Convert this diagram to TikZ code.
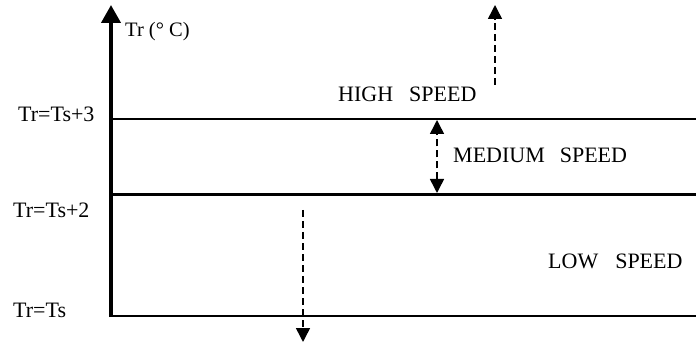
\documentclass[tikz,border=0pt]{standalone}
\usepackage{fontspec}
\setmainfont{Liberation Serif}
\usetikzlibrary{arrows.meta}
\begin{document}
\begin{tikzpicture}[x=1pt,y=1pt,
  lbl/.style={inner sep=0pt,anchor=base west,font=\fontsize{22}{26}\selectfont},
  lvl/.style={line width=1.6pt},
  dsh/.style={line width=1.5pt,dash pattern=on 7pt off 4pt,
    -{Triangle[width=14pt,length=14pt]}},
  dsh2/.style={line width=1.5pt,dash pattern=on 7pt off 4pt,
    {Triangle[width=14pt,length=14pt]}-{Triangle[width=14pt,length=14pt]}}]
\useasboundingbox (0,0) rectangle (696,343);
% axis
\coordinate (o) at (111,26);
\coordinate (top) at (111,338);
\draw[line width=4pt,-{Triangle[width=19pt,length=18pt]}] (o) -- (top);
% level lines
\coordinate (l3a) at (111,224); \coordinate (l3b) at (696,224);
\coordinate (l2a) at (111,148); \coordinate (l2b) at (696,148);
\coordinate (l0a) at (109,27); \coordinate (l0b) at (696,27);
\draw[lvl] (l3a) -- (l3b);
\draw[line width=3pt] (l2a) -- (l2b);
\draw[line width=2pt] (l0a) -- (l0b);
% labels
\node[lbl] (t3) at (18,221) {Tr=Ts+3};
\node[lbl] (t2) at (13,125) {Tr=Ts+2};
\node[lbl] (t0) at (13,26) {Tr=Ts};
\node[lbl,font=\fontsize{20.5}{24}\selectfont] (ax) at (125,306) {Tr (° C)};
\node[lbl] (hs) at (338,241) {HIGH\hspace{16pt}SPEED};
\node[lbl] (ms) at (453,180) {MEDIUM\hspace{15pt}SPEED};
\node[lbl] (ls) at (548,75) {LOW\hspace{17pt}SPEED};
% arrows
\coordinate (u1) at (495,258); \coordinate (u2) at (495,338);
\draw[dsh] (u1) -- (u2);
\coordinate (m1) at (437,150); \coordinate (m2) at (437,223);
\draw[dsh2] (m1) -- (m2);
\coordinate (d1) at (303,133); \coordinate (d2) at (303,1);
\draw[dsh] (d1) -- (d2);
\end{tikzpicture}
\end{document}
